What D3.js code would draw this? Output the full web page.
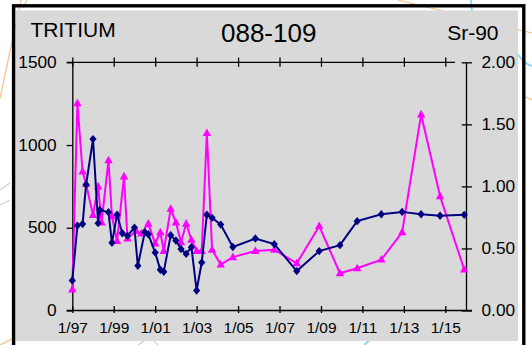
<!DOCTYPE html>
<html>
<head>
<meta charset="utf-8">
<script src="https://cdnjs.cloudflare.com/ajax/libs/d3/7.8.5/d3.min.js"></script>
<style>
  body { margin: 0; background: #fff; }
  svg { display: block; font-family: "Liberation Sans", Arial, sans-serif; }
</style>
</head>
<body>
<script>
// tritium (left axis, pCi/L) - navy diamonds
const tritiumDates = [
  "1997-01", "1997-04", "1997-07", "1997-09", "1998-01", "1998-04", "1998-05", "1998-10",
  "1998-12", "1999-03", "1999-06", "1999-09", "2000-01", "2000-03", "2000-07", "2000-09",
  "2001-01", "2001-04", "2001-06", "2001-10", "2002-01", "2002-04", "2002-07", "2002-10",
  "2003-01", "2003-04", "2003-07", "2003-10", "2004-03", "2004-10", "2005-11", "2006-10",
  "2007-11", "2008-12", "2009-12", "2010-10", "2011-12", "2012-12", "2013-11", "2014-10",
  "2015-12"
];
const tritiumValues = [
  181, 513, 523, 761, 1036, 528, 608, 594,
  409, 579, 467, 451, 501, 270, 473, 461,
  350, 246, 234, 455, 423, 371, 342, 383,
  121, 290, 579, 560, 519, 384, 435, 401,
  238, 359, 395, 540, 582, 596, 582, 573,
  578
];

// Sr-90 (right axis) - magenta triangles
const srDates = [
  "1997-01", "1997-04", "1997-07", "1997-09", "1998-01", "1998-04", "1998-06", "1998-10",
  "1998-12", "1999-03", "1999-07", "1999-09", "2000-02", "2000-05", "2000-09", "2001-01",
  "2001-04", "2001-06", "2001-10", "2002-01", "2002-04", "2002-07", "2002-10", "2003-01",
  "2003-04", "2003-07", "2003-10", "2004-03", "2004-10", "2005-11", "2006-10", "2007-11",
  "2008-12", "2009-12", "2010-10", "2011-12", "2012-12", "2013-11", "2014-10", "2015-12"
];
const srValues = [
  0.17, 1.67, 1.12, 1.02, 0.77, 1.00, 0.71, 1.21,
  0.76, 0.56, 1.08, 0.58, 0.64, 0.62, 0.70, 0.54,
  0.63, 0.48, 0.82, 0.71, 0.55, 0.70, 0.57, 0.48,
  0.48, 1.43, 0.49, 0.37, 0.43, 0.48, 0.49, 0.38,
  0.68, 0.30, 0.34, 0.41, 0.63, 1.58, 0.92, 0.33
];

const xTickDates = ["1997-01", "1999-01", "2001-01", "2003-01", "2005-01",
                    "2007-01", "2009-01", "2011-01", "2013-01", "2015-01"];
const leftTicks = [0, 500, 1000, 1500];
const rightTicks = [0, 0.5, 1, 1.5, 2];

const W = 532, H = 345;
const L = 72.3, R = 466, T = 62.3, B = 310.5;

const parse = d3.timeParse("%Y-%m");

const svg = d3.select("body").append("svg")
  .attr("width", W)
  .attr("height", H);

// faint map lines behind the panel
const deco = svg.append("g").attr("fill", "none").attr("stroke-width", 1.2);
deco.append("path").attr("d", "M21,0 L0,98").attr("stroke", "#f7c08a");
deco.append("path").attr("d", "M27,0 L23,8").attr("stroke", "#c8c8c8");
deco.append("path").attr("d", "M398,0 L532,33").attr("stroke", "#f7c08a");
deco.append("path").attr("d", "M471,0 L472,12").attr("stroke", "#8fd8f5").attr("stroke-width", 2);
deco.append("path").attr("d", "M516,52 Q524,64 532,66").attr("stroke", "#8fd8f5").attr("stroke-width", 2);
deco.append("path").attr("d", "M524,96 L532,100").attr("stroke", "#f7c08a");
deco.append("path").attr("d", "M0,190 L10,183 M0,205 L10,200").attr("stroke", "#d0d0d0");
deco.append("path").attr("d", "M0,345 L30,330").attr("stroke", "#f7c08a");
deco.append("path").attr("d", "M138,345 L150,337 L158,345").attr("stroke", "#d0d0d0");
deco.append("path").attr("d", "M364,345 L378,333").attr("stroke", "#8fd8f5").attr("stroke-width", 2);

// panel
svg.append("rect")
  .attr("x", 15.5).attr("y", 10.5)
  .attr("width", 502.5).attr("height", 330.5)
  .attr("fill", "#d9d9d9");
svg.append("rect")
  .attr("x", 13.6).attr("y", 5.8)
  .attr("width", 510.2).attr("height", 400)
  .attr("fill", "none")
  .attr("stroke", "#000")
  .attr("stroke-width", 3.4);

const x = d3.scaleTime()
  .domain([new Date(1997, 0, 1), new Date(2016, 0, 1)])
  .range([L, R]);
const yLeft = d3.scaleLinear().domain([0, 1500]).range([B, T]);
const yRight = d3.scaleLinear().domain([0, 2]).range([B, T]);

const xTicks = xTickDates.map(parse);

// bottom axis
const gx = svg.append("g")
  .attr("transform", `translate(0,${B})`)
  .call(d3.axisBottom(x).tickValues(xTicks).tickFormat(d3.timeFormat("%-m/%y")).tickSizeOuter(0));
gx.select(".domain").remove();
gx.selectAll(".tick line").attr("y1", -4.5).attr("y2", 2.5).attr("stroke-width", 1.3);
gx.selectAll(".tick text")
  .attr("y", 22.2).attr("dy", 0)
  .attr("font-size", 15.5).attr("fill", "#000");
svg.append("line")
  .attr("x1", L - 5.6).attr("x2", R + 6)
  .attr("y1", B).attr("y2", B)
  .attr("stroke", "#000").attr("stroke-width", 1.3);

// top axis (ticks only)
const gt = svg.append("g")
  .attr("transform", `translate(0,${T})`)
  .call(d3.axisTop(x).tickValues(xTicks).tickFormat("").tickSizeOuter(0));
gt.select(".domain").remove();
gt.selectAll(".tick line").attr("y1", -4.7).attr("y2", 4.5).attr("stroke-width", 1.3);
svg.append("line")
  .attr("x1", L - 5.6).attr("x2", 455)
  .attr("y1", T).attr("y2", T)
  .attr("stroke", "#000").attr("stroke-width", 1.3);

// left axis
const gl = svg.append("g")
  .attr("transform", `translate(${L},0)`)
  .call(d3.axisLeft(yLeft).tickValues(leftTicks).tickFormat(d3.format("d")).tickSize(5.6).tickSizeOuter(0));
gl.select(".domain").attr("stroke-width", 1.3);
gl.selectAll(".tick line").attr("stroke-width", 1.3);
gl.selectAll(".tick text")
  .attr("font-size", 16).attr("fill", "#000")
  .attr("transform", "scale(1.08,1)")
  .attr("x", -15.6 / 1.08);

// right axis
const gr = svg.append("g")
  .attr("transform", `translate(${R},0)`)
  .call(d3.axisRight(yRight).tickValues(rightTicks).tickFormat(d3.format(".2f")).tickSize(6).tickSizeOuter(0));
gr.select(".domain").attr("stroke-width", 1.3);
gr.selectAll(".tick line").attr("x1", -4.3).attr("stroke-width", 1.3);
gr.selectAll(".tick text")
  .attr("font-size", 16).attr("fill", "#000")
  .attr("transform", "scale(1.08,1)")
  .attr("x", 15.5 / 1.08);

// titles
svg.append("text").attr("x", 30.5).attr("y", 37.3)
  .attr("font-size", 21).text("TRITIUM");
svg.append("text").attr("x", 268.7).attr("y", 42.3)
  .attr("text-anchor", "middle").attr("font-size", 26).text("088-109");
svg.append("text").attr("x", 498.5).attr("y", 40)
  .attr("text-anchor", "end").attr("font-size", 21).text("Sr-90");

// series
const srData = srDates.map((d, i) => ({ date: parse(d), value: srValues[i] }));
const trData = tritiumDates.map((d, i) => ({ date: parse(d), value: tritiumValues[i] }));

const srLine = d3.line().x(d => x(d.date)).y(d => yRight(d.value));
const trLine = d3.line().x(d => x(d.date)).y(d => yLeft(d.value));

svg.append("path").datum(srData)
  .attr("d", srLine)
  .attr("fill", "none").attr("stroke", "#ff00ff").attr("stroke-width", 2);
svg.append("g").selectAll("path")
  .data(srData)
  .join("path")
  .attr("transform", d => `translate(${x(d.date)},${yRight(d.value)})`)
  .attr("d", "M0,-4.6L4.2,3L-4.2,3Z")
  .attr("fill", "#ff00ff");

svg.append("path").datum(trData)
  .attr("d", trLine)
  .attr("fill", "none").attr("stroke", "#000080").attr("stroke-width", 2);
svg.append("g").selectAll("path")
  .data(trData)
  .join("path")
  .attr("transform", d => `translate(${x(d.date)},${yLeft(d.value)})`)
  .attr("d", "M0,-4.2L3.6,0L0,4.2L-3.6,0Z")
  .attr("fill", "#000080");
</script>
</body>
</html>
